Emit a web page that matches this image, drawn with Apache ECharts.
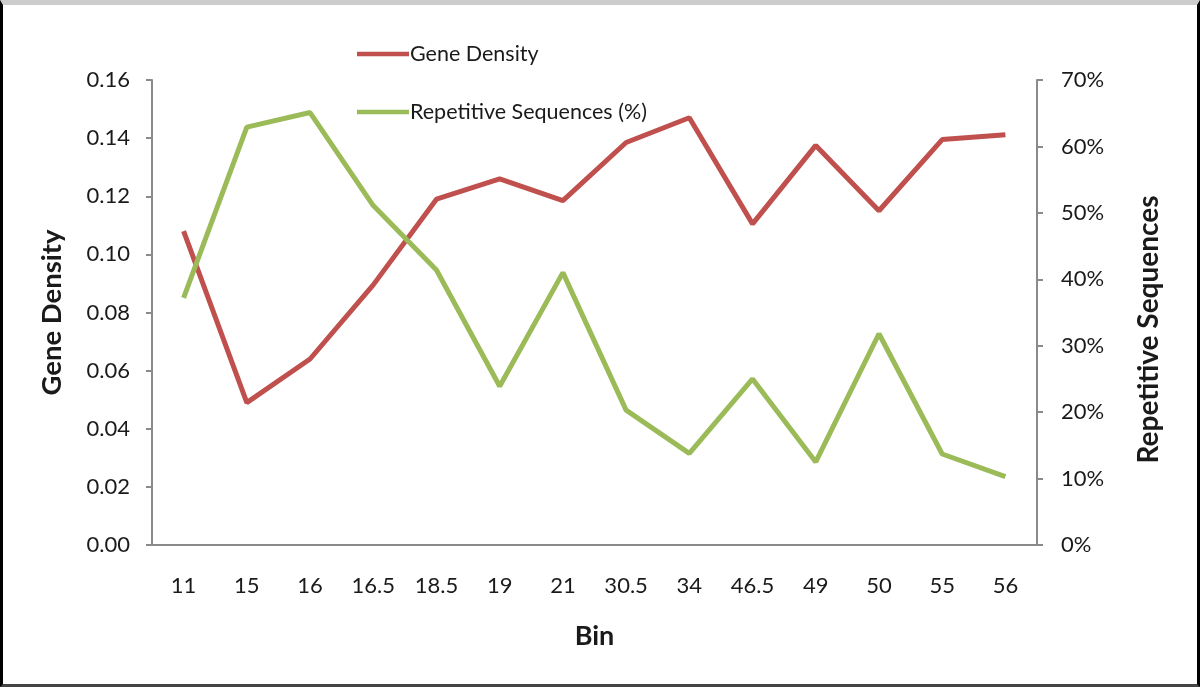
<!DOCTYPE html>
<html>
<head>
<meta charset="utf-8">
<script src="https://cdn.jsdelivr.net/npm/echarts@6/dist/echarts.min.js"></script>
<style>
  html, body { margin: 0; padding: 0; background: #fff; }
  #frame { position: absolute; left: 0; top: 0; width: 1200px; height: 687px; box-sizing: border-box;
           border-left: 3px solid #000; border-right: 3px solid #000; border-bottom: 3px solid #444; border-top: 5px solid #ccc; }
  #chart { position: absolute; left: 0; top: 0; width: 1200px; height: 687px; }
</style>
</head>
<body>
<div id="chart"></div>
<div id="frame"></div>
<script>
const categories = ['11', '15', '16', '16.5', '18.5', '19', '21', '30.5', '34', '46.5', '49', '50', '55', '56'];
const geneDensity = [0.108, 0.049, 0.064, 0.0895, 0.119, 0.126, 0.1185, 0.1385, 0.147, 0.1105, 0.1375, 0.115, 0.1395, 0.1412];
const repetitive = [37.2, 62.9, 65.1, 51.1, 41.4, 23.9, 41.0, 20.3, 13.8, 25.0, 12.5, 31.8, 13.7, 10.3];
const leftTicks = { min: 0, max: 0.16, interval: 0.02 };
const rightTicks = { min: 0, max: 70, interval: 10 };

const FONT = 'Lato';
const TXT = '#1a1a1a';
const AX = '#8a8a8a';

const chart = echarts.init(document.getElementById('chart'));
chart.setOption({
  animation: false,
  backgroundColor: '#fff',
  textStyle: { fontFamily: FONT },
  grid: { left: 152, right: 163, top: 80, bottom: 142 },
  legend: {
    orient: 'vertical', left: 352, top: 38, itemGap: 36, itemWidth: 52, itemHeight: 28,
    icon: 'path://M0,12 L52,12 L52,16.5 L0,16.5 Z',
    textStyle: { fontFamily: FONT, fontSize: 21.5, color: TXT, padding: [0, 0, 0, -4] },
    data: ['Gene Density', 'Repetitive Sequences (%)']
  },
  xAxis: {
    type: 'category', data: categories, boundaryGap: true,
    name: 'Bin', nameLocation: 'middle', nameGap: 78,
    nameTextStyle: { fontFamily: FONT, fontSize: 27, fontWeight: 'bold', color: TXT },
    axisLine: { lineStyle: { color: AX, width: 2 } },
    axisTick: { show: false },
    axisLabel: { margin: 30, fontFamily: FONT, fontSize: 22, color: TXT }
  },
  yAxis: [
    {
      type: 'value', min: leftTicks.min, max: leftTicks.max, interval: leftTicks.interval,
      name: 'Gene Density', nameLocation: 'middle', nameGap: 86, nameRotate: 90,
      nameTextStyle: { fontFamily: FONT, fontSize: 27.5, fontWeight: 'bold', color: TXT },
      splitLine: { show: false },
      axisLine: { show: true, lineStyle: { color: AX, width: 2 } },
      axisTick: { show: true, length: 6, lineStyle: { color: AX, width: 2 } },
      axisLabel: { margin: 22, fontFamily: FONT, fontSize: 22, color: TXT, formatter: v => v.toFixed(2) }
    },
    {
      type: 'value', min: rightTicks.min, max: rightTicks.max, interval: rightTicks.interval,
      name: 'Repetitive Sequences', nameLocation: 'middle', nameGap: 98, nameRotate: 90,
      nameTextStyle: { fontFamily: FONT, fontSize: 28, fontWeight: 'bold', color: TXT, padding: [0, 34, 0, 0] },
      splitLine: { show: false },
      axisLine: { show: true, lineStyle: { color: AX, width: 2 } },
      axisTick: { show: true, length: 6, lineStyle: { color: AX, width: 2 } },
      axisLabel: { margin: 24, fontFamily: FONT, fontSize: 22, color: TXT, formatter: '{value}%' }
    }
  ],
  series: [
    {
      name: 'Gene Density', type: 'line', yAxisIndex: 0, data: geneDensity,
      symbol: 'none', lineStyle: { color: '#c0504d', width: 5 }, itemStyle: { color: '#c0504d' }
    },
    {
      name: 'Repetitive Sequences (%)', type: 'line', yAxisIndex: 1, data: repetitive,
      symbol: 'none', lineStyle: { color: '#9bbb59', width: 5 }, itemStyle: { color: '#9bbb59' }
    }
  ]
});
</script>
</body>
</html>
